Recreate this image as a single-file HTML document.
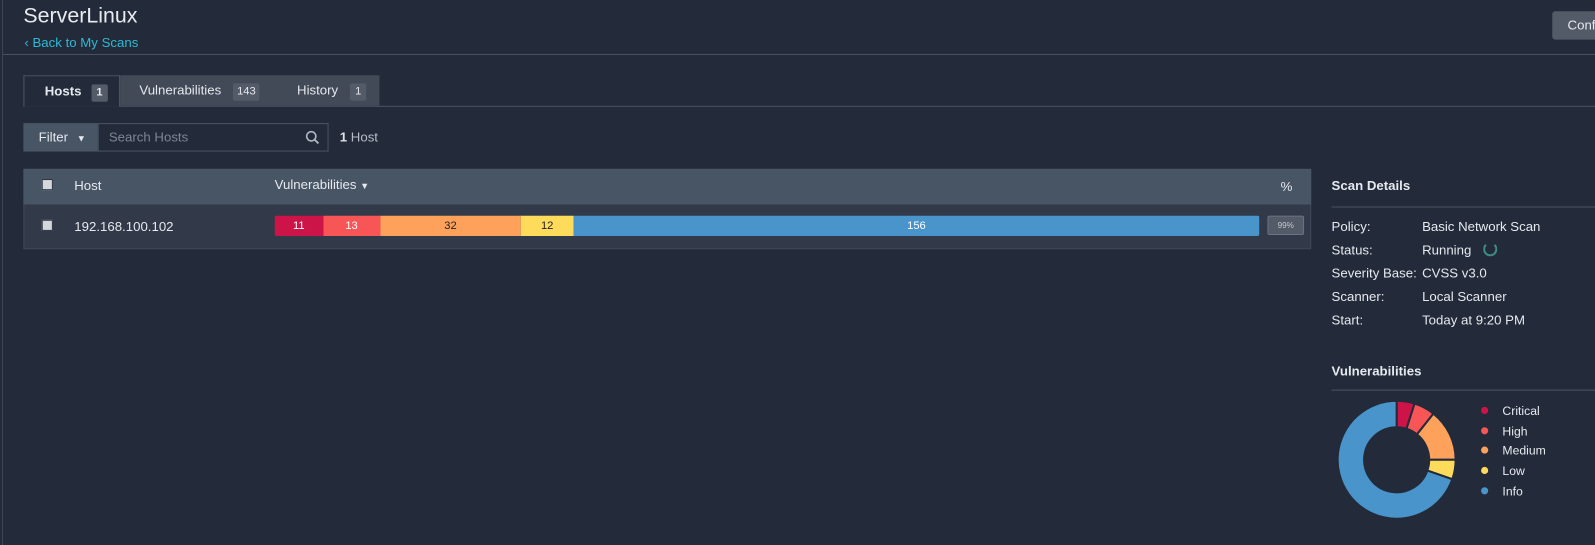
<!DOCTYPE html>
<html><head><meta charset="utf-8"><style>
body{margin:0;width:1595px;height:536px;background:#232b3a;font-family:"Liberation Sans",sans-serif;color:#e6e9ee;position:relative;overflow:hidden}
#wrap{position:absolute;left:0;top:0;width:1568px;height:527px;transform:scale(1.01722);transform-origin:0 0}
.a{position:absolute}
</style></head><body>
<div id="wrap">
<div class="a" style="left:2px;top:0;width:1px;height:536px;background:#3d4656"></div>
<div class="a" style="left:23px;top:4px;font-size:21px;color:#e9ebef">ServerLinux</div>
<div class="a" style="left:24px;top:34px;font-size:13px;color:#2fb8d3">‹ Back to My Scans</div>
<div class="a" style="left:1526px;top:11px;width:80px;height:28px;background:#545b68;border-radius:3px;font-size:13px;line-height:28px;padding-left:15px;color:#e6e9ee">Conf</div>
<div class="a" style="left:3px;top:53px;width:1592px;height:1px;background:#4a5363"></div>

<div class="a" style="left:23px;top:104px;width:1572px;height:1px;background:#4a5363"></div>
<div class="a" style="left:118px;top:74px;width:255px;height:30px;background:#424957"></div>
<div class="a" style="left:23px;top:74px;width:95px;height:31px;background:#232b3a;border:1px solid #4a5363;border-bottom:none;box-sizing:border-box;font-size:13px;font-weight:bold;line-height:30px;padding-left:20px">Hosts <span style="display:inline-block;background:#545b68;font-size:11px;line-height:17px;padding:0 5px;margin-left:6px;border-radius:2px">1</span></div>
<div class="a" style="left:137px;top:74px;font-size:13px;line-height:30px">Vulnerabilities <span style="display:inline-block;background:#545b68;font-size:11px;line-height:17px;padding:0 4px;margin-left:8px;border-radius:2px">143</span></div>
<div class="a" style="left:292px;top:74px;font-size:13px;line-height:30px">History <span style="display:inline-block;background:#545b68;font-size:11px;line-height:17px;padding:0 5px;margin-left:8px;border-radius:2px">1</span></div>

<div class="a" style="left:23px;top:121px;width:73px;height:28px;background:#485565;font-size:13px;line-height:28px;padding-left:15px;box-sizing:border-box">Filter <span style="font-size:9px;margin-left:5px">▼</span></div>
<div class="a" style="left:96px;top:121px;width:227px;height:28px;border:1px solid #4a5363;box-sizing:border-box;font-size:13px;line-height:26px;padding-left:10px;color:#7e8694">Search Hosts
<svg class="a" style="left:203px;top:6px" width="14" height="14" viewBox="0 0 14 14"><circle cx="6" cy="6" r="4.5" fill="none" stroke="#aeb6c2" stroke-width="1.6"/><line x1="9.3" y1="9.3" x2="13" y2="13" stroke="#aeb6c2" stroke-width="1.8"/></svg></div>
<div class="a" style="left:334px;top:127px;font-size:13px;color:#b7bdc7"><b style="color:#dfe3e8">1</b> Host</div>

<div class="a" style="left:23px;top:166px;width:1266px;height:79px;background:#323949;border:1px solid #3f4858;box-sizing:border-box"></div>
<div class="a" style="left:23px;top:166px;width:1266px;height:35px;background:#485565"></div>
<div class="a" style="left:41px;top:176px;width:9px;height:9px;background:#d4d7db;border:1px solid #2a3140"></div>
<div class="a" style="left:73px;top:175px;font-size:13px">Host</div>
<div class="a" style="left:270px;top:174px;font-size:13px">Vulnerabilities <span style="font-size:9px">▼</span></div>
<div class="a" style="left:1259px;top:176px;font-size:13px">%</div>
<div class="a" style="left:41px;top:216px;width:9px;height:9px;background:#d4d7db;border:1px solid #2a3140"></div>
<div class="a" style="left:73px;top:215px;font-size:13px">192.168.100.102</div>
<div class="a" id="bar" style="left:270px;top:212px;width:968px;height:20px;display:flex;border-radius:2px;overflow:hidden"></div>
<div class="a" style="left:1246px;top:212px;width:36px;height:19px;background:#545b68;border:1px solid #6b7280;box-sizing:border-box;border-radius:2px;font-size:8px;text-align:center;line-height:17px;color:#c5c9cf">99%</div>

<div class="a" style="left:1309px;top:175px;font-size:13px;font-weight:bold">Scan Details</div>
<div class="a" style="left:1309px;top:203px;width:286px;height:1px;background:#4a5363"></div>
<div class="a" style="left:1309px;top:211px;font-size:13px;line-height:23px">
<div>Policy:<span class="a" style="left:89px;white-space:nowrap">Basic Network Scan</span></div>
<div>Status:<span class="a" style="left:89px;white-space:nowrap">Running <span style="display:inline-block;width:10px;height:10px;border:2px solid #3f8a82;border-radius:50%;margin-left:8px;vertical-align:-2px;border-top-color:transparent"></span></span></div>
<div>Severity Base:<span class="a" style="left:89px;white-space:nowrap">CVSS v3.0</span></div>
<div>Scanner:<span class="a" style="left:89px;white-space:nowrap">Local Scanner</span></div>
<div>Start:<span class="a" style="left:89px;white-space:nowrap">Today at 9:20 PM</span></div>
</div>
<div class="a" style="left:1309px;top:357px;font-size:13px;font-weight:bold">Vulnerabilities</div>
<div class="a" style="left:1309px;top:383px;width:286px;height:1px;background:#4a5363"></div>
<svg class="a" id="donut" style="left:1300px;top:388px" width="150" height="130"></svg>
<div class="a" id="legend" style="left:1456px;top:395px;font-size:12px;line-height:19.7px"></div>
</div>

<script>
const categories=["Critical","High","Medium","Low","Info"];
const counts=[11,13,32,12,156];
const colors=["#cc1449","#f85656","#fda15b","#ffdb5c","#4a94cc"];
const total=counts.reduce((a,b)=>a+b,0);
const bar=document.getElementById('bar');
counts.forEach((v,i)=>{const s=document.createElement('div');


s.style.cssText=`flex:${v} 0 0;background:${colors[i]};font-size:11px;text-align:center;line-height:20px;color:${i==2||i==3?'#222':'#fff'}`;
s.textContent=v;bar.appendChild(s);});
const svg=document.getElementById('donut');const cx=73,cy=64,R=58,r=32;
let a0=0;
counts.forEach((v,i)=>{const a1=a0+v/total*2*Math.PI;
const p=(a,rad)=>[cx+rad*Math.sin(a),cy-rad*Math.cos(a)];
const [x1,y1]=p(a0,R),[x2,y2]=p(a1,R),[x3,y3]=p(a1,r),[x4,y4]=p(a0,r);const lg=a1-a0>Math.PI?1:0;
const path=document.createElementNS('http://www.w3.org/2000/svg','path');
path.setAttribute('d',`M${x1},${y1}A${R},${R} 0 ${lg} 1 ${x2},${y2}L${x3},${y3}A${r},${r} 0 ${lg} 0 ${x4},${y4}Z`);
path.setAttribute('fill',colors[i]);path.setAttribute('stroke','#232b3a');path.setAttribute('stroke-width','2');


svg.appendChild(path);a0=a1;});
const lg=document.getElementById('legend');
categories.forEach((c,i)=>{const d=document.createElement('div');


d.innerHTML=`<span style="display:inline-block;width:7px;height:7px;border-radius:50%;background:${colors[i]};margin-right:14px;vertical-align:1px"></span>${c}`;lg.appendChild(d);});
</script>
</body></html>
